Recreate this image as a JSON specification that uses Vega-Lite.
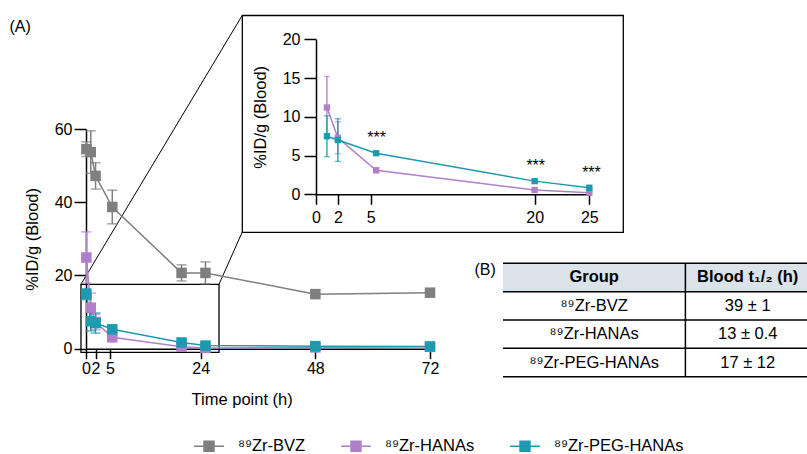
{
  "$schema": "https://vega.github.io/schema/vega-lite/v6.json",
  "width": 807,
  "height": 454,
  "autosize": {"type": "none"},
  "padding": 0,
  "background": "white",
  "config": {
    "view": {"stroke": null},
    "font": "Liberation Sans",
    "axis": {
      "grid": false,
      "domainColor": "black",
      "tickColor": "black",
      "labelColor": "black",
      "titleColor": "black",
      "labelFont": "Liberation Sans",
      "titleFont": "Liberation Sans",
      "labelFontSize": 16,
      "titleFontSize": 16.5,
      "titleFontWeight": "normal",
      "domainWidth": 1.5,
      "tickWidth": 1.5,
      "labelOverlap": false,
      "labelFlush": false,
      "labelBound": false
    },
    "text": {"font": "Liberation Sans", "color": "black"}
  },
  "datasets": {
    "pk": [
      {"group": "⁸⁹Zr-BVZ", "t": 0.08, "v": 54.5, "sd": 2.0},
      {"group": "⁸⁹Zr-BVZ", "t": 1, "v": 53.7, "sd": 5.8},
      {"group": "⁸⁹Zr-BVZ", "t": 2, "v": 47.2, "sd": 3.6},
      {"group": "⁸⁹Zr-BVZ", "t": 5.5, "v": 38.7, "sd": 4.6},
      {"group": "⁸⁹Zr-BVZ", "t": 20, "v": 20.7, "sd": 2.2},
      {"group": "⁸⁹Zr-BVZ", "t": 25, "v": 20.7, "sd": 3.0},
      {"group": "⁸⁹Zr-BVZ", "t": 48, "v": 14.9, "sd": 1.0},
      {"group": "⁸⁹Zr-BVZ", "t": 72, "v": 15.3, "sd": 0.5},
      {"group": "⁸⁹Zr-HANAs", "t": 0.08, "v": 24.9, "sd": 7.0},
      {"group": "⁸⁹Zr-HANAs", "t": 1, "v": 11.2, "sd": 4.0},
      {"group": "⁸⁹Zr-HANAs", "t": 2, "v": 7.3, "sd": 2.07},
      {"group": "⁸⁹Zr-HANAs", "t": 5.5, "v": 3.1, "sd": 0.3},
      {"group": "⁸⁹Zr-HANAs", "t": 20, "v": 0.55, "sd": 0.1},
      {"group": "⁸⁹Zr-HANAs", "t": 25, "v": 0.2, "sd": 0.1},
      {"group": "⁸⁹Zr-HANAs", "t": 48, "v": 0.35, "sd": 0.1},
      {"group": "⁸⁹Zr-HANAs", "t": 72, "v": 0.5, "sd": 0.1},
      {"group": "⁸⁹Zr-PEG-HANAs", "t": 0.08, "v": 14.9, "sd": 1.5},
      {"group": "⁸⁹Zr-PEG-HANAs", "t": 1, "v": 7.5, "sd": 2.64},
      {"group": "⁸⁹Zr-PEG-HANAs", "t": 2, "v": 7.0, "sd": 2.75},
      {"group": "⁸⁹Zr-PEG-HANAs", "t": 5.5, "v": 5.3, "sd": 0.2},
      {"group": "⁸⁹Zr-PEG-HANAs", "t": 20, "v": 1.7, "sd": 0.15},
      {"group": "⁸⁹Zr-PEG-HANAs", "t": 25, "v": 0.85, "sd": 0.1},
      {"group": "⁸⁹Zr-PEG-HANAs", "t": 48, "v": 0.7, "sd": 0.1},
      {"group": "⁸⁹Zr-PEG-HANAs", "t": 72, "v": 0.6, "sd": 0.1}
    ]
  },
  "resolve": {
    "scale": {"x": "independent", "y": "independent"},
    "axis": {"x": "independent", "y": "independent"}
  },
  "layer": [
    {
      "encoding": {
        "x": {
          "field": "t", "type": "quantitative",
          "scale": {"domain": [0, 72], "range": [86, 430], "nice": false, "zero": false},
          "axis": {"orient": "bottom", "values": [0, 2, 5, 24, 48, 72], "offset": -105.3, "tickSize": 10, "labelPadding": 2, "title": "Time point (h)", "titleX": 241.7, "titleY": 56, "titleBaseline": "alphabetic"}
        },
        "y": {
          "field": "v", "type": "quantitative",
          "scale": {"domain": [0, 60], "range": [348.7, 129], "nice": false, "zero": false},
          "axis": {"orient": "left", "values": [0, 20, 40, 60], "offset": -86, "tickSize": 12, "labelPadding": 2, "title": "%ID/g (Blood)", "titlePadding": 14}
        }
      },
      "layer": [
        {
          "data": {"values": [{"t": -1.05, "t2": 27.84, "v": 17.59, "v2": -0.98}]},
          "mark": {"type": "rect", "fillOpacity": 0, "stroke": "black", "strokeWidth": 1.3},
          "encoding": {"x2": {"field": "t2"}, "y2": {"field": "v2"}}
        },
        {
          "data": {"values": [
            {"t": -1.05, "v": 17.59, "t2": 32.71, "v2": 91.04},
            {"t": 27.84, "v": 17.59, "t2": 32.71, "v2": 31.87}
          ]},
          "mark": {"type": "rule", "color": "black", "strokeWidth": 1},
          "encoding": {"x2": {"field": "t2"}, "y2": {"field": "v2"}}
        },
        {
          "data": {"name": "pk"},
          "mark": {"type": "line", "strokeWidth": 1.5},
          "encoding": {
            "color": {"field": "group", "type": "nominal",
              "scale": {"domain": ["⁸⁹Zr-BVZ", "⁸⁹Zr-HANAs", "⁸⁹Zr-PEG-HANAs"], "range": ["#7f7f7f", "#b07fc8", "#1b9bb0"]},
              "legend": {"orient": "none", "legendX": 193, "legendY": 430, "direction": "horizontal", "title": null,
                "symbolType": "M-1,0H1M-0.33,-0.33H0.33V0.33H-0.33Z", "symbolSize": 900, "symbolStrokeWidth": 1.5,
                "labelFontSize": 16.5, "labelFont": "Liberation Sans", "labelColor": "black", "labelOffset": 13, "columnPadding": 32,
                "encode": {"symbols": {"update": {"stroke": {"scale": "color", "field": "value"}, "fill": {"scale": "color", "field": "value"}, "opacity": {"value": 1}}}}}
            }
          }
        },
        {
          "data": {"name": "pk"},
          "mark": {"type": "errorbar", "ticks": {"size": 10, "thickness": 1.5}, "rule": {"strokeWidth": 1.5}},
          "encoding": {
            "yError": {"field": "sd"},
            "color": {"field": "group", "type": "nominal"}
          }
        },
        {
          "data": {"name": "pk"},
          "mark": {"type": "point", "shape": "square", "filled": true, "size": 110, "opacity": 1},
          "encoding": {"color": {"field": "group", "type": "nominal"}}
        },
        {
          "data": {"values": [{"t": -13.8, "v": 87.8, "label": "(A)"}]},
          "mark": {"type": "text", "fontSize": 16, "align": "center", "baseline": "middle"},
          "encoding": {"text": {"field": "label"}}
        }
      ]
    },
    {
      "encoding": {
        "x": {
          "field": "t", "type": "quantitative",
          "scale": {"domain": [0, 25], "range": [316, 589.3], "nice": false, "zero": false},
          "axis": {"orient": "bottom", "values": [0, 2, 5, 20, 25], "offset": -259.7, "tickSize": 10, "labelPadding": 5, "title": null}
        },
        "y": {
          "field": "v", "type": "quantitative",
          "scale": {"domain": [0, 20], "range": [194.3, 39.3], "nice": false, "zero": false},
          "axis": {"orient": "left", "values": [0, 5, 10, 15, 20], "offset": -316, "tickSize": 12, "labelPadding": 4, "title": "%ID/g (Blood)", "titlePadding": 14}
        }
      },
      "layer": [
        {
          "data": {"values": [{"t": -6.74, "t2": 28.11, "v": 23.07, "v2": -4.9}]},
          "mark": {"type": "rect", "fillOpacity": 0, "stroke": "black", "strokeWidth": 1.3},
          "encoding": {"x2": {"field": "t2"}, "y2": {"field": "v2"}}
        },
        {
          "data": {"name": "pk"},
          "transform": [{"filter": {"field": "t", "range": [1, 25]}}, {"filter": {"field": "group", "oneOf": ["⁸⁹Zr-HANAs", "⁸⁹Zr-PEG-HANAs"]}}],
          "mark": {"type": "line", "strokeWidth": 1.5},
          "encoding": {"color": {"field": "group", "type": "nominal"}}
        },
        {
          "data": {"name": "pk"},
          "transform": [{"filter": {"field": "t", "range": [1, 25]}}, {"filter": {"field": "group", "oneOf": ["⁸⁹Zr-HANAs", "⁸⁹Zr-PEG-HANAs"]}}],
          "mark": {"type": "errorbar", "ticks": {"size": 6, "thickness": 1.3}, "rule": {"strokeWidth": 1.3}},
          "encoding": {"yError": {"field": "sd"}, "color": {"field": "group", "type": "nominal"}}
        },
        {
          "data": {"name": "pk"},
          "transform": [{"filter": {"field": "t", "range": [1, 25]}}, {"filter": {"field": "group", "oneOf": ["⁸⁹Zr-HANAs", "⁸⁹Zr-PEG-HANAs"]}}],
          "mark": {"type": "point", "shape": "square", "filled": true, "size": 40, "opacity": 1},
          "encoding": {"color": {"field": "group", "type": "nominal"}}
        },
        {
          "data": {"values": [
            {"t": 5.55, "v": 6.67, "label": "***"},
            {"t": 20.1, "v": 3.0, "label": "***"},
            {"t": 25.2, "v": 2.15, "label": "***"}
          ]},
          "mark": {"type": "text", "fontSize": 16, "align": "center", "baseline": "alphabetic"},
          "encoding": {"text": {"field": "label"}}
        }
      ]
    },
    {
      "encoding": {
        "x": {"field": "cx", "type": "quantitative", "scale": {"domain": [0, 10], "range": [503, 807], "nice": false, "zero": false}, "axis": null},
        "y": {"field": "cy", "type": "quantitative", "scale": {"domain": [0, 4], "range": [263.3, 376.7], "nice": false, "zero": false}, "axis": null}
      },
      "layer": [
        {
          "data": {"values": [{"cx": 0, "cx2": 10, "cy": 0, "cy2": 1}]},
          "mark": {"type": "rect", "color": "#dae2ea"},
          "encoding": {"x2": {"field": "cx2"}, "y2": {"field": "cy2"}}
        },
        {
          "data": {"values": [
            {"cx": 0, "cx2": 10, "cy": 0, "cy2": 0},
            {"cx": 0, "cx2": 10, "cy": 1, "cy2": 1},
            {"cx": 0, "cx2": 10, "cy": 2, "cy2": 2},
            {"cx": 0, "cx2": 10, "cy": 3, "cy2": 3},
            {"cx": 0, "cx2": 10, "cy": 4, "cy2": 4},
            {"cx": 6, "cx2": 6, "cy": 0, "cy2": 4}
          ]},
          "mark": {"type": "rule", "color": "black", "strokeWidth": 1.5},
          "encoding": {"x2": {"field": "cx2"}, "y2": {"field": "cy2"}}
        },
        {
          "data": {"values": [
            {"cx": 3, "cy": 0.5, "label": "Group"},
            {"cx": 8.05, "cy": 0.5, "label": "Blood t₁/₂ (h)"}
          ]},
          "mark": {"type": "text", "fontSize": 16.5, "fontWeight": "bold", "align": "center", "baseline": "middle"},
          "encoding": {"text": {"field": "label"}}
        },
        {
          "data": {"values": [
            {"cx": 3, "cy": 1.5, "label": "⁸⁹Zr-BVZ"},
            {"cx": 3, "cy": 2.5, "label": "⁸⁹Zr-HANAs"},
            {"cx": 3, "cy": 3.5, "label": "⁸⁹Zr-PEG-HANAs"},
            {"cx": 8.05, "cy": 1.5, "label": "39 ± 1"},
            {"cx": 8.05, "cy": 2.5, "label": "13 ± 0.4"},
            {"cx": 8.05, "cy": 3.5, "label": "17 ± 12"}
          ]},
          "mark": {"type": "text", "fontSize": 16.5, "align": "center", "baseline": "middle"},
          "encoding": {"text": {"field": "label"}}
        },
        {
          "data": {"values": [{"cx": -0.59, "cy": 0.24, "label": "(B)"}]},
          "mark": {"type": "text", "fontSize": 16, "align": "center", "baseline": "middle"},
          "encoding": {"text": {"field": "label"}}
        }
      ]
    }
  ]
}
